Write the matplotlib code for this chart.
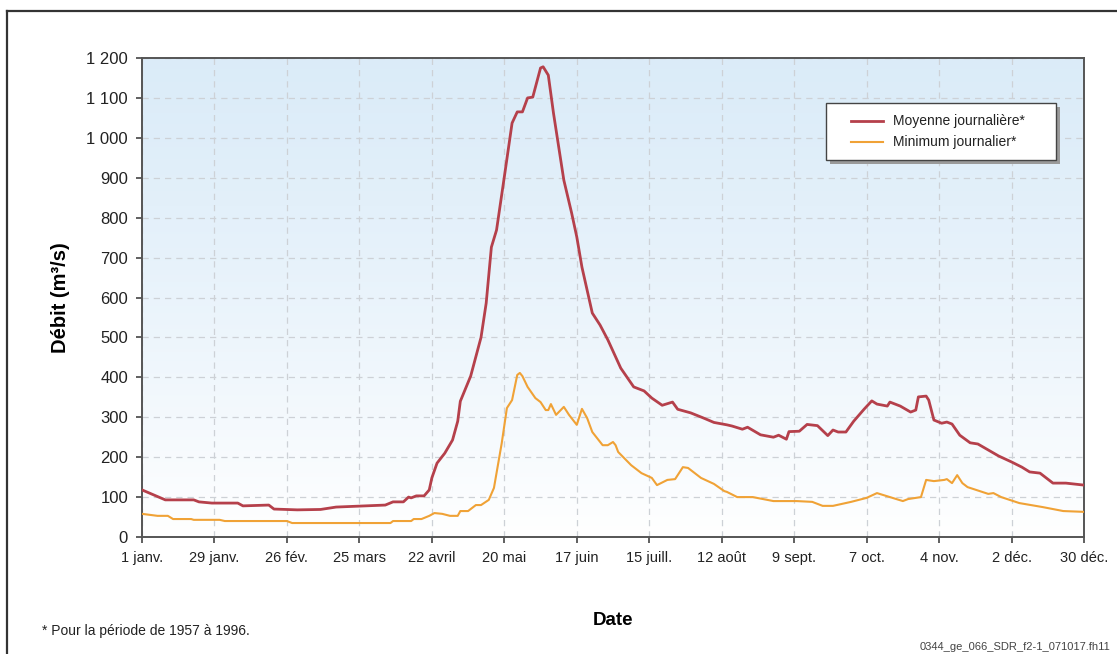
import numpy as np
import matplotlib.pyplot as plt
from matplotlib.patches import Rectangle
from matplotlib.lines import Line2D

plt.rcParams['font.family'] = ['Liberation Sans', 'DejaVu Sans']

# jour de l'année -> débit moyen journalier (m3/s)
moy_jour = [1, 10, 21, 23, 28, 38, 40, 50, 52, 61, 70, 76, 95, 98, 102, 104, 105,
            107, 110, 112, 113, 115, 118, 121, 123, 124, 128, 132, 134, 136, 138,
            141, 144, 146, 148, 150, 152, 155, 156, 158, 160, 164, 167, 169, 171,
            175, 178, 181, 186, 191, 195, 198, 202, 206, 208, 213, 218, 222, 227,
            229, 233, 235, 240, 245, 247, 250, 251, 255, 258, 262, 266, 268, 270,
            273, 276, 280, 283, 285, 289, 290, 294, 298, 300, 301, 304, 305, 307,
            310, 312, 314, 317, 321, 324, 328, 332, 337, 341, 344, 348, 353, 358, 365]
moy_val = [118, 93, 93, 88, 85, 85, 78, 80, 70, 68, 69, 75, 80, 88, 88, 100, 98,
           103, 103, 118, 148, 185, 210, 243, 290, 340, 403, 500, 586, 726, 769,
           902, 1037, 1065, 1065, 1100, 1102, 1175, 1178, 1157, 1062, 894, 812, 752, 676,
           561, 531, 494, 423, 376, 366, 348, 330, 338, 320, 311, 298, 287, 281,
           278, 270, 275, 256, 250, 255, 245, 264, 265, 282, 279, 254, 268, 263,
           263, 290, 320, 341, 333, 328, 338, 328, 313, 318, 351, 353, 343, 293,
           285, 288, 283, 255, 236, 233, 218, 203, 188, 175, 163, 160, 135, 135, 130]

# jour de l'année -> débit minimum journalier (m3/s)
min_jour = [1, 7, 11, 13, 20, 21, 31, 33, 57, 59, 97, 98, 105, 106, 109, 112, 114,
            117, 120, 123, 124, 127, 130, 132, 135, 137, 140, 142, 144, 146, 147,
            148, 150, 153, 155, 157, 158, 159, 161, 164, 166, 169, 171, 173, 175,
            179, 181, 183, 184, 185, 190, 194, 198, 200, 204, 207, 210, 212, 217,
            222, 226, 227, 231, 237, 245, 254, 260, 264, 268, 275, 281, 285, 290,
            295, 297, 302, 304, 307, 311, 312, 314, 316, 318, 320, 328, 330, 333,
            340, 349, 357, 365]
min_val = [58, 53, 53, 45, 45, 43, 43, 40, 40, 35, 35, 40, 40, 45, 45, 53, 60,
           58, 53, 53, 65, 65, 80, 80, 93, 123, 235, 323, 343, 406, 411,
           403, 376, 348, 338, 318, 318, 333, 306, 326, 306, 281, 321, 298, 263,
           230, 230, 238, 230, 213, 180, 160, 148, 130, 143, 145, 175, 173, 148,
           133, 115, 113, 100, 100, 90, 90, 88, 78, 78, 88, 98, 110, 100,
           90, 95, 100, 143, 140, 143, 145, 135, 155, 135, 125, 108, 110, 100,
           85, 75, 65, 63]

tick_jours = [1, 29, 57, 85, 113, 141, 169, 197, 225, 253, 281, 309, 337, 365]
tick_noms = ['1 janv.', '29 janv.', '26 fév.', '25 mars', '22 avril', '20 mai',
             '17 juin', '15 juill.', '12 août', '9 sept.', '7 oct.', '4 nov.',
             '2 déc.', '30 déc.']
y_ticks = list(range(0, 1201, 100))
y_noms = ['0', '100', '200', '300', '400', '500', '600', '700', '800', '900',
          '1 000', '1 100', '1 200']

rouge = '#b5404b'
orange = '#f0a236'

fig = plt.figure(figsize=(11.17, 6.54), dpi=100)
ax = fig.add_axes([142 / 1117, 117 / 654, 942 / 1117, 479 / 654])

# fond dégradé bleu -> blanc
grad = np.linspace(0, 1, 256).reshape(-1, 1, 1)
top = np.array([0.86, 0.925, 0.975])
bot = np.array([1.0, 1.0, 1.0])
img = np.clip(top + (bot - top) * grad ** 1.3, 0, 1)
ax.imshow(img, extent=[0, 1, 0, 1], transform=ax.transAxes, aspect='auto',
          zorder=0, origin='upper')

ax.plot(min_jour, min_val, color=orange, lw=1.5, zorder=3)
ax.plot(moy_jour, moy_val, color=rouge, lw=2.0, zorder=4)

ax.set_xlim(1, 365)
ax.set_ylim(0, 1200)
ax.set_xticks(tick_jours)
ax.set_xticklabels(tick_noms, fontsize=10.5, color='#222222')
ax.set_yticks(y_ticks)
ax.set_yticklabels(y_noms, fontsize=12, color='#222222')
ax.tick_params(direction='out', length=4, width=1.2, color='#444444', pad=6)
ax.grid(True, ls=(0, (5, 4)), color='#cdd1d6', lw=0.9, zorder=1)
ax.set_axisbelow(True)
for s in ax.spines.values():
    s.set_color('#555555')
    s.set_linewidth(1.4)

ax.set_ylabel('Débit (m³/s)', fontsize=14.5, fontweight='bold', labelpad=12)
ax.set_xlabel('Date', fontsize=13.5, fontweight='bold', labelpad=34)

# légende avec ombre
lx0, ly0, lw_, lh = 826 / 1117, 1 - 160 / 654, 230 / 1117, 57 / 654
fig.patches.append(Rectangle((lx0 + 4 / 1117, ly0 - 4 / 654), lw_, lh,
                             transform=fig.transFigure, facecolor='#9a9a9a',
                             edgecolor='none', zorder=5))
fig.patches.append(Rectangle((lx0, ly0), lw_, lh, transform=fig.transFigure,
                             facecolor='white', edgecolor='#444444', lw=1.0,
                             zorder=6))
for i, (c, lab, w) in enumerate([(rouge, 'Moyenne journalière*', 2.0),
                                 (orange, 'Minimum journalier*', 1.5)]):
    yy = 1 - (121 + 21 * i) / 654
    fig.lines.append(Line2D([851 / 1117, 883 / 1117], [yy, yy], color=c, lw=w,
                            transform=fig.transFigure, zorder=7))
    fig.text(893 / 1117, yy, lab, fontsize=10, va='center', color='#222222',
             zorder=7)

# cadre extérieur
fig.lines.append(Line2D([7 / 1117, 7 / 1117], [0, 1 - 11 / 654], color='#333333',
                        lw=1.6, transform=fig.transFigure))
fig.lines.append(Line2D([7 / 1117, 1], [1 - 11 / 654, 1 - 11 / 654],
                        color='#333333', lw=1.6, transform=fig.transFigure))

fig.text(42 / 1117, 1 - 631 / 654, '* Pour la période de 1957 à 1996.',
         fontsize=10, va='center', color='#222222')
fig.text(920 / 1117, 1 - 647 / 654, '0344_ge_066_SDR_f2-1_071017.fh11',
         fontsize=8, va='center', color='#444444')

fig.savefig('out.png', dpi=100)
